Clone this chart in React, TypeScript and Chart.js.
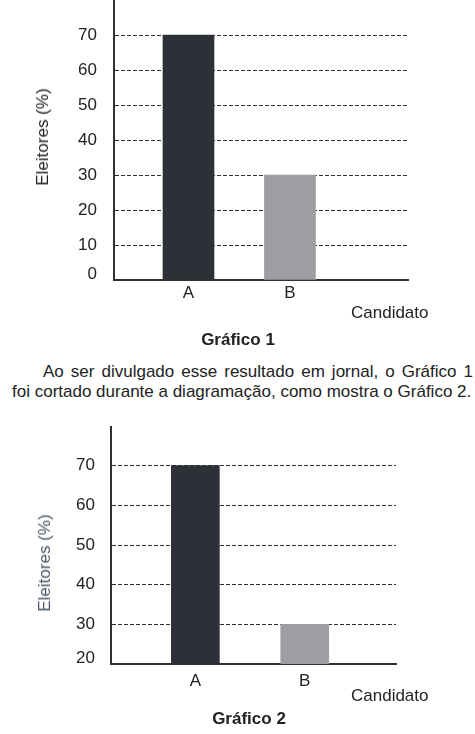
import React, { useEffect, useRef } from 'react';
import { Chart, registerables } from 'chart.js';

Chart.register(...registerables);

// ---- data ----
const candidates = ['A', 'B'];
const voters = [70, 30];
const chart1TickValues = [0, 10, 20, 30, 40, 50, 60, 70];
const chart2TickValues = [20, 30, 40, 50, 60, 70];
const barColors = ['#2e3038', '#9d9ea1'];

const FONT = "'Liberation Sans', Arial, Helvetica, sans-serif";
const TEXT = '#222222';
const AXIS = '#303030';

type Cfg = {
  id: string;
  width: number;
  height: number;
  yMin: number;
  yMax: number;
  yTicks: number[];
  xMin: number;
  xMax: number;
  barThickness: number;
  leftWidth: number;
  rightPad: number;
  bottomPad: number;
  tickGap: number;
  xLabelPad: number;
  bottomShift: number;
};

function BarChart({ cfg }: { cfg: Cfg }) {
  const ref = useRef<HTMLCanvasElement | null>(null);
  useEffect(() => {
    if (!ref.current) return;
    const tickPlugin = {
      id: 'yTickLabels_' + cfg.id,
      afterDraw(chart: any) {
        const y = chart.scales.y;
        const ctx = chart.ctx;
        ctx.save();
        ctx.font = `17px ${FONT}`;
        ctx.fillStyle = TEXT;
        ctx.textAlign = 'right';
        ctx.textBaseline = 'middle';
        for (const v of cfg.yTicks) {
          let py = y.getPixelForValue(v);
          if (v === cfg.yMin) py -= cfg.bottomShift;
          ctx.fillText(String(v), chart.chartArea.left - cfg.tickGap, py);
        }
        ctx.restore();
      },
    };
    const chart = new Chart(ref.current, {
      type: 'bar',
      data: {
        datasets: [
          {
            data: candidates.map((c, i) => ({ x: i + 1, y: voters[i] })),
            backgroundColor: barColors,
            borderWidth: 0,
            barThickness: cfg.barThickness,
          } as any,
        ],
      },
      options: {
        responsive: false,
        animation: false,
        layout: { padding: { left: 0, top: 0, right: cfg.rightPad, bottom: cfg.bottomPad } },
        plugins: { legend: { display: false }, tooltip: { enabled: false } },
        scales: {
          x: {
            type: 'linear',
            min: cfg.xMin,
            max: cfg.xMax,
            offset: false,
            bounds: 'data',
            z: 1,
            afterBuildTicks: (s: any) => {
              s.ticks = candidates.map((_, i) => ({ value: i + 1 }));
            },
            afterFit: (s: any) => {
              s.height = 30;
            },
            grid: { display: false, drawTicks: false, offset: false },
            border: { display: true, color: AXIS, width: 2 },
            ticks: {
              padding: cfg.xLabelPad,
              autoSkip: false,
              maxRotation: 0,
              color: TEXT,
              font: { size: 17, family: FONT },
              callback: (v: any) => candidates[Math.round(Number(v)) - 1] ?? '',
            },
          },
          y: {
            type: 'linear',
            min: cfg.yMin,
            max: cfg.yMax,
            afterBuildTicks: (s: any) => {
              s.ticks = cfg.yTicks.map((v) => ({ value: v }));
            },
            afterFit: (s: any) => {
              s.width = cfg.leftWidth;
            },
            grid: { color: AXIS, lineWidth: 1, drawTicks: false },
            border: { display: true, color: AXIS, width: 2, dash: [4, 2] },
            ticks: { display: false },
          },
        },
      } as any,
      plugins: [tickPlugin],
    });
    return () => chart.destroy();
  }, [cfg]);
  return <canvas ref={ref} width={cfg.width} height={cfg.height} style={{ display: 'block', width: cfg.width, height: cfg.height }} />;
}

const cfg1: Cfg = {
  id: 'g1',
  width: 475,
  height: 310,
  yMin: 0,
  yMax: 80,
  yTicks: chart1TickValues,
  xMin: 0.266,
  xMax: 3.163,
  barThickness: 51,
  leftWidth: 114,
  rightPad: 67,
  bottomPad: 0,
  tickGap: 17,
  xLabelPad: 3,
  bottomShift: 6,
};

const cfg2: Cfg = {
  id: 'g2',
  width: 475,
  height: 278,
  yMin: 20,
  yMax: 80,
  yTicks: chart2TickValues,
  xMin: 0.229,
  xMax: 2.834,
  barThickness: 48,
  leftWidth: 111,
  rightPad: 79,
  bottomPad: 10,
  tickGap: 16,
  xLabelPad: 7.5,
  bottomShift: 6,
};

const txt: React.CSSProperties = {
  position: 'absolute',
  fontFamily: FONT,
  fontSize: 17,
  lineHeight: '20px',
  color: TEXT,
  whiteSpace: 'nowrap',
};

export default function App() {
  return (
    <div style={{ position: 'absolute', left: 0, top: 0, width: 475, height: 734, overflow: 'hidden', background: '#fff' }}>
      <div style={{ position: 'absolute', left: 0, top: 0 }}>
        <BarChart cfg={cfg1} />
      </div>
      <div style={{ ...txt, left: 43, top: 137, transform: 'translate(-50%, -50%) rotate(-90deg)' }}>Eleitores (%)</div>
      <div style={{ ...txt, left: 351, top: 303 }}>Candidato</div>
      <div style={{ ...txt, left: 238, top: 330, transform: 'translateX(-50%)', fontWeight: 'bold' }}>Gráfico 1</div>

      <div style={{ ...txt, left: 43, top: 362, width: 430, whiteSpace: 'normal', textAlign: 'justify', textAlignLast: 'justify' as any }}>
        Ao ser divulgado esse resultado em jornal, o Gráfico 1
      </div>
      <div style={{ ...txt, left: 12, top: 382 }}>foi cortado durante a diagramação, como mostra o Gráfico 2.</div>

      <div style={{ position: 'absolute', left: 0, top: 426 }}>
        <BarChart cfg={cfg2} />
      </div>
      <div style={{ ...txt, left: 45, top: 563, color: '#4a5666', transform: 'translate(-50%, -50%) rotate(-90deg)' }}>Eleitores (%)</div>
      <div style={{ ...txt, left: 351, top: 686 }}>Candidato</div>
      <div style={{ ...txt, left: 249, top: 709, transform: 'translateX(-50%)', fontWeight: 'bold' }}>Gráfico 2</div>
    </div>
  );
}
